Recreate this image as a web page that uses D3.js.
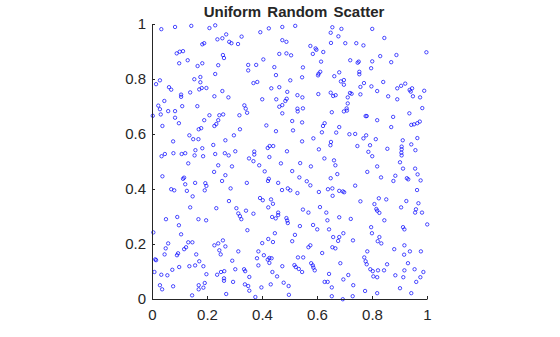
<!DOCTYPE html>
<meta charset="utf-8">
<script src="https://d3js.org/d3.v7.min.js"></script>
<style>
  body { margin: 0; background: #fff; }
  text { font-family: "Liberation Sans", Arial, sans-serif; fill: #262626; }
</style>
<div id="chart"></div>
<script>

// tick values and their labels
const tickValues = [0, 0.2, 0.4, 0.6, 0.8, 1]
const tickLabels = ["0", "0.2", "0.4", "0.6", "0.8", "1"]
const title = "Uniform Random Scatter"

// points, grouped by region of the plot ([x, y])
const topLeft = [[0.032,0.983],[0.082,0.991],[0.141,0.995],[0.207,0.987],[0.228,0.997],[0.268,0.964],[0.236,0.946],[0.254,0.950],[0.279,0.937],[0.287,0.932],[0.311,0.929],[0.181,0.928],[0.188,0.932],[0.088,0.895],[0.099,0.901],[0.111,0.903],[0.256,0.889],[0.260,0.878],[0.128,0.870],[0.097,0.859],[0.181,0.859],[0.164,0.849],[0.239,0.852],[0.228,0.820],[0.152,0.801],[0.174,0.809],[0.174,0.790],[0.027,0.797],[0.013,0.783],[0.060,0.772],[0.068,0.763],[0.170,0.764],[0.179,0.769],[0.196,0.769],[0.137,0.753],[0.254,0.758],[0.104,0.745],[0.104,0.737],[0.225,0.739],[0.276,0.735],[0.043,0.722],[0.021,0.705],[0.027,0.692],[0.108,0.703],[0.163,0.703]]

const topMiddle = [[0.324,0.956],[0.392,0.972],[0.423,0.986],[0.472,0.991],[0.519,0.995],[0.472,0.943],[0.487,0.937],[0.574,0.922],[0.593,0.913],[0.596,0.908],[0.621,0.900],[0.583,0.893],[0.461,0.893],[0.487,0.895],[0.504,0.888],[0.403,0.873],[0.613,0.865],[0.348,0.853],[0.348,0.833],[0.377,0.853],[0.443,0.845],[0.547,0.844],[0.610,0.828],[0.604,0.821],[0.602,0.815],[0.449,0.816],[0.544,0.808],[0.501,0.797],[0.367,0.787],[0.381,0.791],[0.461,0.772],[0.432,0.768],[0.490,0.755],[0.488,0.730],[0.483,0.722],[0.527,0.743],[0.545,0.735],[0.603,0.747],[0.399,0.728],[0.450,0.728],[0.472,0.707],[0.461,0.701],[0.334,0.706],[0.339,0.694],[0.527,0.694],[0.547,0.695]]

const topRight = [[0.654,0.990],[0.648,0.970],[0.687,0.984],[0.676,0.957],[0.799,0.984],[0.843,0.951],[0.649,0.933],[0.701,0.932],[0.741,0.932],[0.767,0.924],[0.996,0.899],[0.887,0.889],[0.828,0.885],[0.719,0.870],[0.746,0.861],[0.750,0.865],[0.799,0.866],[0.868,0.863],[0.795,0.841],[0.752,0.828],[0.752,0.819],[0.679,0.826],[0.661,0.812],[0.685,0.793],[0.696,0.798],[0.696,0.781],[0.769,0.787],[0.839,0.791],[0.756,0.773],[0.796,0.775],[0.817,0.758],[0.904,0.777],[0.919,0.785],[0.890,0.768],[0.935,0.762],[0.944,0.768],[0.939,0.756],[0.988,0.759],[0.648,0.752],[0.657,0.740],[0.666,0.743],[0.718,0.751],[0.724,0.748],[0.710,0.735],[0.756,0.746],[0.857,0.739],[0.890,0.728],[0.947,0.739],[0.973,0.735],[0.710,0.713],[0.706,0.695],[0.981,0.696]]

const midLeft = [[0.001,0.668],[0.030,0.673],[0.057,0.685],[0.082,0.685],[0.082,0.661],[0.096,0.641],[0.036,0.631],[0.188,0.652],[0.207,0.670],[0.243,0.670],[0.257,0.673],[0.239,0.652],[0.232,0.638],[0.225,0.631],[0.316,0.670],[0.177,0.623],[0.168,0.619],[0.318,0.619],[0.296,0.597],[0.134,0.597],[0.148,0.583],[0.167,0.583],[0.075,0.575],[0.265,0.579],[0.221,0.562],[0.156,0.543],[0.181,0.550],[0.301,0.539],[0.045,0.529],[0.033,0.521],[0.076,0.532],[0.106,0.529],[0.119,0.532],[0.130,0.495],[0.153,0.524],[0.184,0.521],[0.228,0.529],[0.263,0.532],[0.277,0.524],[0.239,0.488],[0.289,0.484],[0.224,0.464],[0.265,0.452],[0.036,0.448],[0.115,0.443],[0.111,0.439],[0.253,0.431],[0.155,0.424],[0.119,0.419],[0.192,0.423],[0.196,0.413],[0.190,0.397],[0.068,0.401],[0.079,0.397],[0.125,0.395],[0.284,0.404],[0.146,0.375],[0.278,0.358]]

const center = [[0.344,0.679],[0.472,0.677],[0.528,0.684],[0.414,0.633],[0.449,0.612],[0.508,0.649],[0.544,0.644],[0.626,0.641],[0.620,0.631],[0.616,0.608],[0.511,0.615],[0.544,0.575],[0.585,0.586],[0.426,0.558],[0.439,0.558],[0.419,0.551],[0.489,0.539],[0.605,0.546],[0.370,0.538],[0.370,0.527],[0.351,0.513],[0.367,0.503],[0.425,0.518],[0.467,0.495],[0.537,0.496],[0.625,0.513],[0.388,0.488],[0.576,0.484],[0.408,0.466],[0.508,0.467],[0.534,0.444],[0.423,0.439],[0.420,0.431],[0.343,0.424],[0.457,0.424],[0.561,0.430],[0.574,0.415],[0.471,0.398],[0.492,0.404],[0.501,0.397],[0.527,0.387],[0.605,0.391],[0.638,0.401],[0.391,0.369],[0.401,0.361],[0.431,0.364],[0.438,0.348]]

const midRight = [[0.652,0.681],[0.696,0.684],[0.707,0.687],[0.775,0.667],[0.779,0.667],[0.817,0.652],[0.875,0.664],[0.934,0.677],[0.868,0.627],[0.941,0.635],[0.951,0.637],[0.963,0.641],[0.972,0.647],[0.679,0.627],[0.668,0.607],[0.716,0.601],[0.737,0.602],[0.767,0.586],[0.777,0.597],[0.812,0.583],[0.910,0.579],[0.963,0.587],[0.649,0.573],[0.647,0.561],[0.745,0.558],[0.791,0.561],[0.854,0.548],[0.906,0.556],[0.906,0.546],[0.905,0.534],[0.906,0.524],[0.941,0.564],[0.956,0.543],[0.785,0.537],[0.799,0.521],[0.660,0.506],[0.665,0.488],[0.900,0.499],[0.817,0.484],[0.955,0.476],[0.781,0.464],[0.672,0.456],[0.911,0.476],[0.883,0.450],[0.876,0.431],[0.964,0.455],[0.831,0.444],[0.925,0.441],[0.930,0.437],[0.648,0.441],[0.975,0.433],[0.737,0.414],[0.654,0.404],[0.679,0.395],[0.692,0.393],[0.697,0.390],[0.655,0.377],[0.962,0.398],[0.823,0.368],[0.850,0.364],[0.756,0.357],[0.807,0.347],[0.923,0.358],[0.967,0.350]]

const bottomLeft = [[0.137,0.335],[0.232,0.332],[0.305,0.332],[0.312,0.313],[0.318,0.303],[0.323,0.292],[0.049,0.292],[0.090,0.300],[0.096,0.270],[0.167,0.292],[0.195,0.288],[0.003,0.244],[0.104,0.237],[0.057,0.204],[0.048,0.186],[0.044,0.164],[0.130,0.208],[0.145,0.208],[0.115,0.183],[0.122,0.190],[0.093,0.168],[0.089,0.161],[0.159,0.164],[0.170,0.139],[0.225,0.197],[0.239,0.204],[0.256,0.215],[0.265,0.193],[0.243,0.179],[0.248,0.164],[0.312,0.175],[0.290,0.141],[0.010,0.146],[0.013,0.143],[0.134,0.121],[0.155,0.124],[0.185,0.121],[0.097,0.118],[0.072,0.108],[0.007,0.100],[0.032,0.090],[0.054,0.088],[0.196,0.092],[0.235,0.090],[0.249,0.100],[0.261,0.103],[0.301,0.110],[0.260,0.077],[0.260,0.068],[0.293,0.064],[0.027,0.052],[0.035,0.037],[0.075,0.048],[0.168,0.052],[0.190,0.060],[0.185,0.043],[0.168,0.037],[0.268,0.020],[0.144,0.015]]

const bottomMiddle = [[0.421,0.335],[0.340,0.323],[0.367,0.312],[0.435,0.300],[0.448,0.295],[0.457,0.316],[0.457,0.307],[0.487,0.296],[0.490,0.287],[0.492,0.278],[0.547,0.327],[0.567,0.316],[0.609,0.336],[0.632,0.316],[0.636,0.288],[0.536,0.267],[0.584,0.271],[0.599,0.255],[0.642,0.255],[0.345,0.252],[0.445,0.241],[0.518,0.235],[0.421,0.220],[0.438,0.209],[0.508,0.212],[0.399,0.205],[0.574,0.197],[0.567,0.190],[0.385,0.175],[0.617,0.169],[0.405,0.161],[0.419,0.145],[0.425,0.151],[0.433,0.150],[0.425,0.133],[0.380,0.150],[0.529,0.153],[0.548,0.153],[0.385,0.124],[0.472,0.121],[0.516,0.125],[0.521,0.118],[0.532,0.111],[0.544,0.100],[0.577,0.132],[0.583,0.124],[0.585,0.116],[0.590,0.106],[0.333,0.110],[0.337,0.103],[0.436,0.100],[0.453,0.084],[0.642,0.093],[0.352,0.082],[0.626,0.064],[0.637,0.064],[0.336,0.055],[0.348,0.049],[0.477,0.061],[0.495,0.049],[0.430,0.055],[0.396,0.044],[0.352,0.032],[0.496,0.017],[0.374,0.009]]

const bottomRight = [[0.814,0.329],[0.817,0.323],[0.825,0.315],[0.904,0.335],[0.958,0.328],[0.955,0.316],[0.980,0.316],[0.679,0.299],[0.721,0.293],[0.843,0.288],[0.999,0.273],[0.795,0.263],[0.911,0.263],[0.916,0.255],[0.798,0.241],[0.694,0.241],[0.679,0.227],[0.675,0.213],[0.657,0.227],[0.825,0.227],[0.819,0.212],[0.832,0.204],[0.729,0.215],[0.654,0.190],[0.665,0.186],[0.916,0.197],[0.879,0.183],[0.781,0.175],[0.936,0.175],[0.976,0.175],[0.770,0.153],[0.775,0.139],[0.779,0.128],[0.792,0.110],[0.801,0.103],[0.803,0.084],[0.915,0.163],[0.853,0.128],[0.929,0.132],[0.683,0.132],[0.820,0.106],[0.842,0.106],[0.953,0.110],[0.916,0.106],[0.985,0.100],[0.712,0.089],[0.883,0.088],[0.912,0.081],[0.817,0.081],[0.974,0.081],[0.694,0.073],[0.959,0.064],[0.730,0.052],[0.900,0.041],[0.941,0.023],[0.773,0.031],[0.817,0.023],[0.652,0.012],[0.692,0.001],[0.728,0.012],[0.652,0.044]]

const points = [].concat(topLeft, topMiddle, topRight, midLeft, center, midRight, bottomLeft, bottomMiddle, bottomRight)

const width = 560, height = 337

const svg = d3.select("#chart")
  .append("svg")
    .attr("width", width)
    .attr("height", height)

const x = d3.scaleLinear().domain([0, 1]).range([152, 427])
const y = d3.scaleLinear().domain([0, 1]).range([299, 24])

// points first so the axes sit on top
svg.append("g")
  .selectAll("circle")
  .data(points)
  .join("circle")
    .attr("cx", d => x(d[0]) + 0.5)
    .attr("cy", d => y(d[1]) + 0.5)
    .attr("r", 1.7)
    .attr("fill", "none")
    .attr("stroke", "#0000ff")
    .attr("stroke-width", 0.7)

svg.append("g")
  .attr("transform", "translate(0," + y(0) + ")")
  .call(d3.axisBottom(x)
    .tickValues(tickValues)
    .tickFormat((d, i) => tickLabels[i])
    .tickSizeInner(-3)
    .tickSizeOuter(0)
    .tickPadding(10))

svg.append("g")
  .attr("transform", "translate(" + x(0) + ",0)")
  .call(d3.axisLeft(y)
    .tickValues(tickValues)
    .tickFormat((d, i) => tickLabels[i])
    .tickSizeInner(-3)
    .tickSizeOuter(0)
    .tickPadding(6))

svg.selectAll(".domain, .tick line").attr("stroke", "#262626")
svg.selectAll(".tick text")
  .attr("fill", "#262626")
  .style("font-size", "15px")
  .style("font-family", "Liberation Sans, Arial, sans-serif")

svg.append("text")
  .attr("x", 294)
  .attr("y", 17)
  .attr("text-anchor", "middle")
  .style("font-size", "15px")
  .style("font-weight", "bold")
  .style("word-spacing", "2px")
  .text(title)

</script>
